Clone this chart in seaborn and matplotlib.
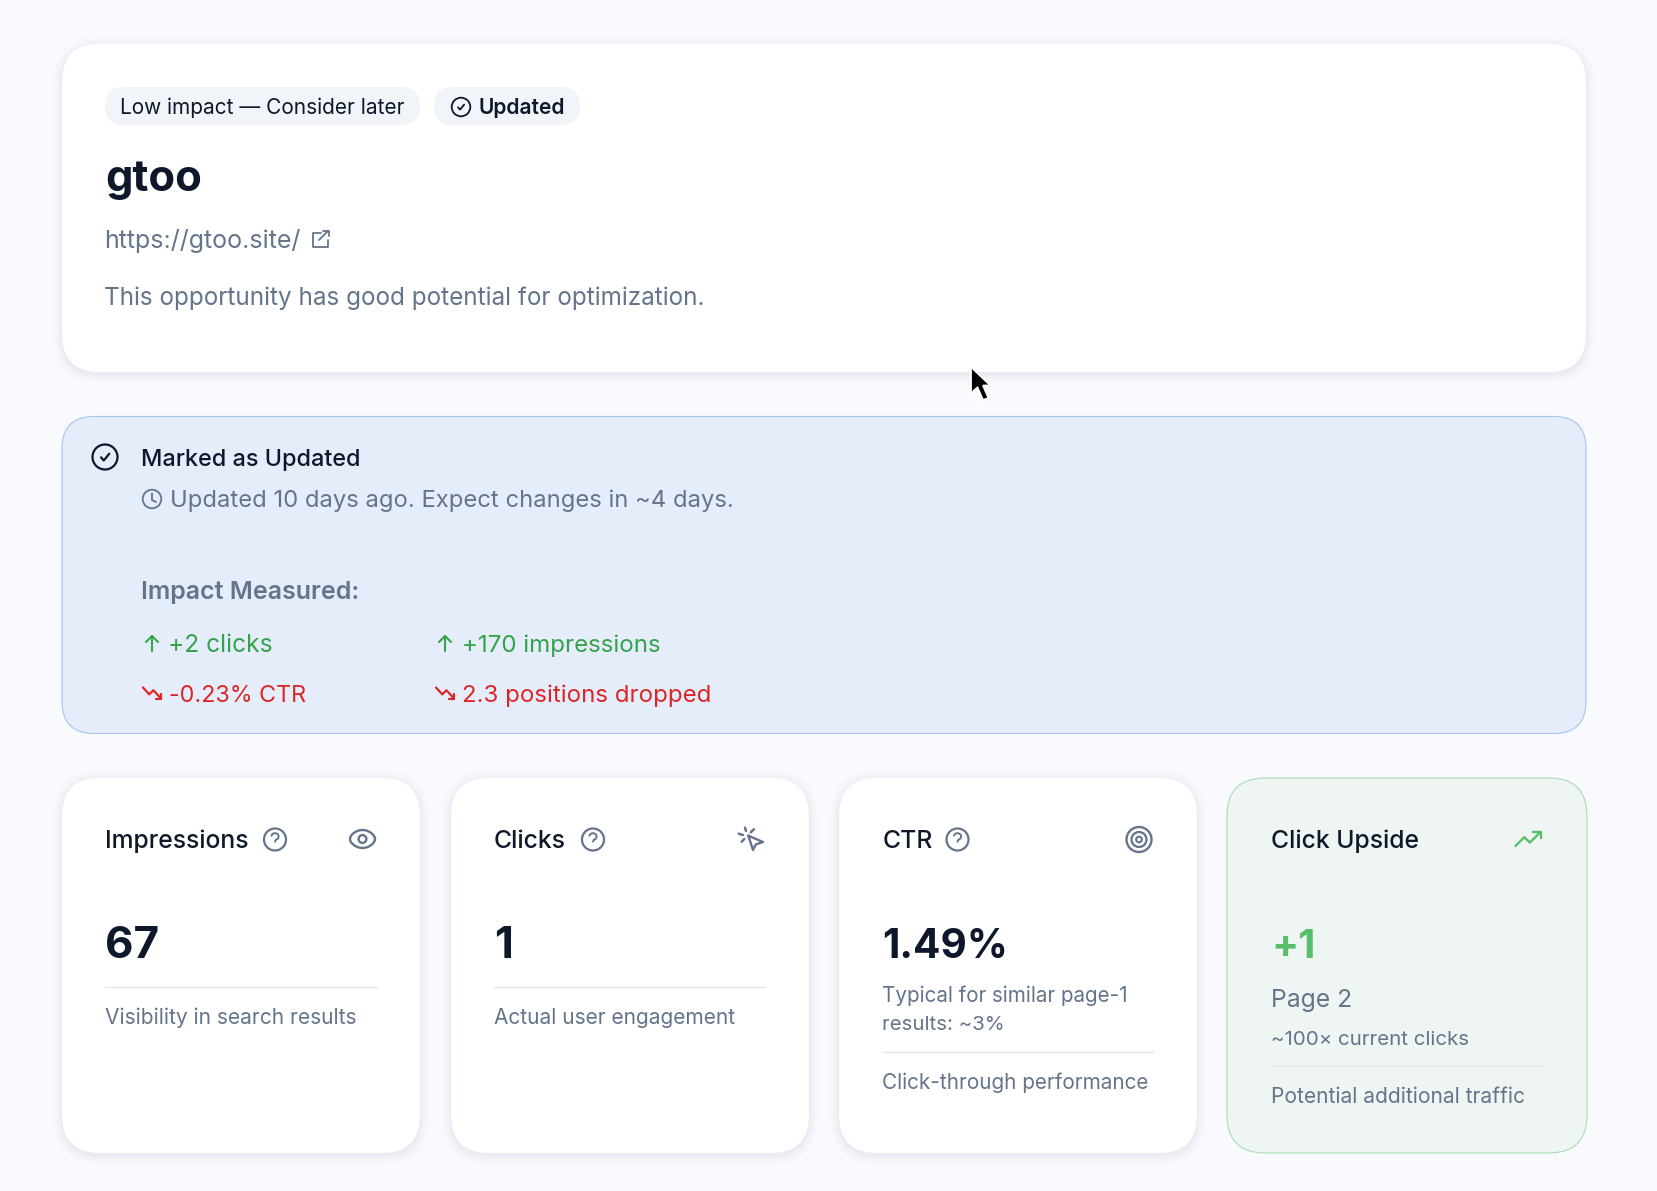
import numpy as np
import matplotlib
matplotlib.use("Agg")
import matplotlib.pyplot as plt
import seaborn as sns
from matplotlib.patches import FancyBboxPatch, Circle, Polygon

# --- Chart content ---
badge_labels = ["Low impact — Consider later", "Updated"]
site_name = "gtoo"
site_url = "https://gtoo.site/"
site_note = "This opportunity has good potential for optimization."
status_title = "Marked as Updated"
status_note = "Updated 10 days ago. Expect changes in ~4 days."
impact_title = "Impact Measured:"
impact_up = ["+2 clicks", "+170 impressions"]
impact_down = ["-0.23% CTR", "2.3 positions dropped"]
metric_titles = ["Impressions", "Clicks", "CTR", "Click Upside"]
metric_values = ["67", "1", "1.49%", "+1"]
metric_notes = ["Visibility in search results", "Actual user engagement",
                "Click-through performance", "Potential additional traffic"]
ctr_detail = ["Typical for similar page-1", "results: ~3%"]
upside_detail = ["Page 2", "~100× current clicks"]

INK = "#0f172a"
SLATE = "#64748b"
GREEN = "#34a34c"
RED = "#dc2626"
PX = 0.72  # one pixel in points at dpi 100


def text(ax, x, y, s, size, color=INK, weight="normal"):
    ax.text(x, y, s, fontsize=size * PX, color=color, weight=weight, ha="left", va="baseline")


def card(ax, x0, y0, x1, y1, r=38, face="white", edge="none", shadow=True):
    if shadow:
        for grow in [9, 6, 4, 2, 1]:
            ax.add_patch(FancyBboxPatch((x0 - grow, y0 - grow + 2), x1 - x0 + 2 * grow, y1 - y0 + 2 * grow,
                                        boxstyle=f"round,pad=0,rounding_size={r + grow}",
                                        fc="#334155", ec="none", alpha=0.012))
    ax.add_patch(FancyBboxPatch((x0, y0), x1 - x0, y1 - y0, boxstyle=f"round,pad=0,rounding_size={r}",
                                fc=face, ec=edge, lw=0.8))


def pline(ax, pts, color, lw=1.6):
    pts = np.array(pts, dtype=float)
    ax.plot(pts[:, 0], pts[:, 1], color=color, lw=lw, solid_capstyle="round", solid_joinstyle="round")


def ring(ax, cx, cy, r, color, lw=1.6):
    ax.add_patch(Circle((cx, cy), r, fc="none", ec=color, lw=lw))


def check_icon(ax, cx, cy, r, color=INK, lw=1.5):
    ring(ax, cx, cy, r, color, lw)
    k = r / 10
    pline(ax, [(cx - 3.2 * k, cy + 0.3 * k), (cx - 1 * k, cy + 2.8 * k), (cx + 3.4 * k, cy - 2.6 * k)], color, lw)


def help_icon(ax, cx, cy, r=11):
    ring(ax, cx, cy, r, SLATE, 1.6)
    t = np.linspace(-2.9, 1.35, 20)
    hook = [(cx + 3.6 * np.cos(a), cy - 3.0 + 3.3 * np.sin(a)) for a in t]
    hook.append((cx, cy + 2.2))
    pline(ax, hook, SLATE, 1.4)
    pline(ax, [(cx, cy + 5.6), (cx + 0.1, cy + 5.6)], SLATE, 1.6)


def trend_icon(ax, cx, cy, color, w=9.0, h=5.5, down=False, lw=1.6):
    s = -1 if down else 1
    pline(ax, [(cx - w, cy + s * h), (cx - w * 0.3, cy - s * h * 0.25), (cx + w * 0.15, cy + s * h * 0.5), (cx + w, cy - s * h)], color, lw)
    pline(ax, [(cx + w * 0.4, cy - s * h), (cx + w, cy - s * h), (cx + w, cy - s * h * 0.1)], color, lw)


def up_arrow(ax, cx, cy, color):
    pline(ax, [(cx, cy + 8), (cx, cy - 7)], color, 1.5)
    pline(ax, [(cx - 6, cy - 1), (cx, cy - 7), (cx + 6, cy - 1)], color, 1.5)


def main():
    sns.set_theme(style="white")
    plt.rcParams["font.family"] = ["Inter", "DejaVu Sans"]

    fig = plt.figure(figsize=(16.57, 11.91), dpi=100, facecolor="#f8fafd")
    ax = fig.add_axes([0, 0, 1, 1])
    ax.set_xlim(0, 1657)
    ax.set_ylim(1191, 0)
    ax.axis("off")
    sns.despine(ax=ax, left=True, bottom=True)

    # header card
    card(ax, 62, 44, 1586, 372)
    ax.add_patch(FancyBboxPatch((105, 87), 315, 38, boxstyle="round,pad=0,rounding_size=19", fc="#f1f5f9", ec="none"))
    ax.add_patch(FancyBboxPatch((434, 87), 146, 38, boxstyle="round,pad=0,rounding_size=19", fc="#f1f5f9", ec="none"))
    text(ax, 120.5, 114, badge_labels[0], 20.85)
    check_icon(ax, 461, 107, 9.3, lw=1.3)
    text(ax, 478, 114, badge_labels[1], 21, weight="semibold")
    text(ax, 105, 191.5, site_name, 43.5, weight="bold")
    text(ax, 104, 248, site_url, 25, SLATE)
    # external link icon
    pline(ax, [(321, 233), (313, 233), (313, 247), (328, 247), (328, 240)], SLATE, 1.3)
    pline(ax, [(319, 240), (328, 231)], SLATE, 1.3)
    pline(ax, [(323, 231), (328.5, 231), (328.5, 236)], SLATE, 1.3)
    text(ax, 104.5, 305, site_note, 24.25, SLATE)

    # status panel
    card(ax, 62, 416.5, 1586, 733.5, r=32, face="#e5edfa", edge="#a6c4f6", shadow=False)
    check_icon(ax, 105, 457, 12.5, lw=1.6)
    text(ax, 141, 466, status_title, 23.4, weight="medium")
    ring(ax, 152, 499, 9.3, SLATE, 1.3)
    pline(ax, [(152, 493.5), (152, 500), (156, 502)], SLATE, 1.3)
    text(ax, 170, 507, status_note, 23.8, SLATE)
    text(ax, 141, 599, impact_title, 25, SLATE, weight="semibold")
    up_arrow(ax, 152, 643, GREEN)
    text(ax, 168, 652, impact_up[0], 24.5, GREEN)
    up_arrow(ax, 445, 643, GREEN)
    text(ax, 461.5, 652, impact_up[1], 24.1, GREEN)
    trend_icon(ax, 152, 693, RED, down=True)
    text(ax, 169, 702, impact_down[0], 23.3, RED)
    trend_icon(ax, 445, 693, RED, down=True)
    text(ax, 462.5, 702, impact_down[1], 24.1, RED)

    # metric cards
    lefts = [62, 451, 839, 1227]
    rights = [420, 809, 1197, 1587]
    text_x = [105, 494, 882.5, 1271]
    rule_ends = [376.5, 765, 1154, 1543]
    help_x = [275, 593, 957.5]
    value_sizes = [44, 44, 40.5, 40]
    note_sizes = [21, 20.9, 20.7, 21]
    for i, (x0, x1, tx) in enumerate(zip(lefts, rights, text_x)):
        upside = i == 3
        if upside:
            card(ax, x0, 778, x1, 1153, face="#eff5f3", edge="#a9ddb0", shadow=False)
        else:
            card(ax, x0, 778, x1, 1153)
        text(ax, tx, 848, metric_titles[i], 24.7, weight="medium")
        if not upside:
            help_icon(ax, help_x[i], 839.5)
        text(ax, tx, 958.5, metric_values[i], value_sizes[i], "#57be6a" if upside else INK, weight="bold")
        if i == 2:
            text(ax, tx, 1002, ctr_detail[0], 20.6, SLATE)
            text(ax, tx, 1030, ctr_detail[1], 20.4, SLATE)
            rule_y, note_y = 1052, 1089
        elif upside:
            text(ax, tx, 1007, upside_detail[0], 24.7, SLATE)
            text(ax, tx, 1045, upside_detail[1], 20.5, SLATE)
            rule_y, note_y = 1066, 1103
        else:
            rule_y, note_y = 987, 1024
        ax.plot([tx, rule_ends[i]], [rule_y, rule_y], color="#e2e8f0", lw=1.0)
        text(ax, tx, note_y, metric_notes[i], note_sizes[i], SLATE)

    # eye icon
    t = np.linspace(0, 2 * np.pi, 60)
    pline(ax, np.column_stack([362.5 + 12.5 * np.cos(t), 839 + 9 * np.sin(t) * (1 - 0.15 * np.cos(t) ** 2)]), SLATE, 1.7)
    ring(ax, 362.5, 839, 3.9, SLATE, 1.7)
    # click icon
    pline(ax, [(748.3, 835.7), (763, 842), (755.7, 844.5), (753, 850), (748.3, 835.7)], SLATE, 1.7)
    pline(ax, [(745, 827.7), (746, 831)], SLATE, 1.8)
    pline(ax, [(738.7, 833.7), (743, 835)], SLATE, 1.8)
    pline(ax, [(741.7, 841.7), (744.3, 839)], SLATE, 1.8)
    pline(ax, [(754, 829.3), (750.7, 832.3)], SLATE, 1.8)
    # target icon
    for r, lw in [(12.5, 1.7), (7.5, 1.6), (2.8, 1.5)]:
        ring(ax, 1139, 839.5, r, SLATE, lw)
    trend_icon(ax, 1528, 839, "#57be6a", w=12.5, h=7, lw=1.7)

    # mouse cursor
    ax.add_patch(Polygon([(971, 367), (971, 393), (977.5, 387.5), (983, 400), (988.5, 398), (983, 385.5), (990.5, 385.5)],
                         closed=True, fc="black", ec="white", lw=1.3, zorder=10))

    fig.savefig("out.png", dpi=100, facecolor=fig.get_facecolor())


if __name__ == "__main__":
    main()
